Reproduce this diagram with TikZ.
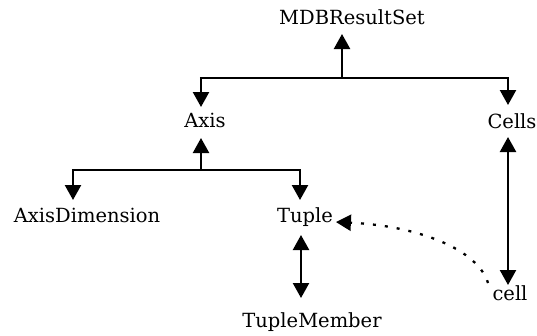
\documentclass[tikz,border=0pt]{standalone}
\usepackage{fontspec}
\setmainfont{DejaVu Serif}
\usetikzlibrary{arrows.meta}
\begin{document}
\begin{tikzpicture}[x=1pt,y=-1pt,
  lbl/.style={inner sep=0pt,outer sep=0pt,anchor=base,font=\fontsize{19.5}{22}\selectfont,text height=15pt,text depth=5pt},
  conn/.style={line width=2.3pt,-{Triangle[length=15pt,width=16pt]}},
  dconn/.style={line width=2.3pt,{Triangle[length=15pt,width=16pt]}-{Triangle[length=15pt,width=16pt]}},
  bar/.style={line width=2.3pt},
  dotconn/.style={line width=2.3pt,dash pattern=on 3pt off 9pt,-{Triangle[length=15pt,width=16pt]}}]
\useasboundingbox (0,0) rectangle (537,335);
% nodes
\node[lbl] (mdb) at (352,24) {MDBResultSet};
\node[lbl] (axis) at (205,127) {Axis};
\node[lbl] (cells) at (512,128) {Cells};
\node[lbl] (adim) at (87,222) {AxisDimension};
\node[lbl] (tuple) at (305,222) {Tuple};
\node[lbl] (tmem) at (312,327) {TupleMember};
\node[lbl] (cell) at (510,300) {cell};
% junctions
\coordinate (j1) at (342,78);
\coordinate (j1l) at (201,78);
\coordinate (j1r) at (508,78);
\coordinate (j2) at (201,170);
\coordinate (j2l) at (73,170);
\coordinate (j2r) at (300,170);
\coordinate (cx) at (508,0);
\coordinate (tx) at (301,0);
% top tree
\draw[bar] ([xshift=-1.15pt]j1l) -- ([xshift=1.15pt]j1r);
\draw[conn,shorten >=5pt] (j1) -- (j1 |- mdb.south);
\draw[conn,shorten >=5pt] (j1l) -- (j1l |- axis.north);
\draw[conn,shorten >=8pt] (j1r) -- (j1r |- cells.north);
% axis tree
\draw[bar] ([xshift=-1.15pt]j2l) -- ([xshift=1.15pt]j2r);
\draw[conn,shorten >=6pt] (j2) -- (j2 |- axis.south);
\draw[conn,shorten >=7pt] (j2l) -- (j2l |- adim.north);
\draw[conn,shorten >=7pt] (j2r) -- (j2r |- tuple.north);
% double arrows
\draw[dconn,shorten <=4pt,shorten >=0pt] (cx |- cells.south) -- (cx |- cell.north);
\draw[dconn,shorten <=8pt,shorten >=14pt] (tx |- tuple.south) -- (tx |- tmem.north);
% dotted
\coordinate (dstart) at (488,283);
\draw[dotconn] (dstart) .. controls (478,250) and (420,226) .. ([xshift=3pt]tuple.east |- 0,222);
\end{tikzpicture}
\end{document}
